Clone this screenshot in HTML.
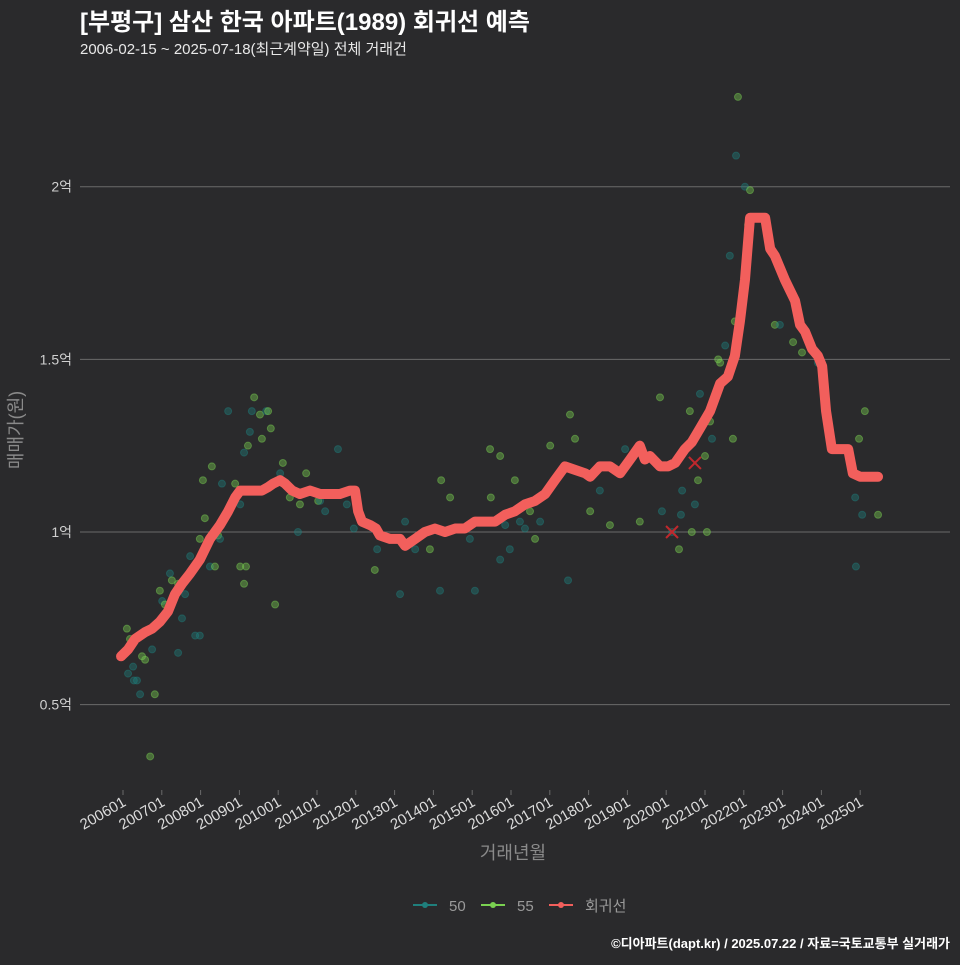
<!DOCTYPE html>
<html><head><meta charset="utf-8">
<style>
body{margin:0;background:#2a2a2c;width:960px;height:960px;overflow:hidden;font-family:"Liberation Sans","Noto Sans CJK KR",sans-serif;}
svg text{font-family:"Liberation Sans","Noto Sans CJK KR",sans-serif;}
</style></head><body>
<svg id="chart" width="960" height="960" xmlns="http://www.w3.org/2000/svg">
<rect width="960" height="960" fill="#2a2a2c"/>
<text x="80" y="30" font-size="24" font-weight="bold" fill="#ffffff">[부평구] 삼산 한국 아파트(1989) 회귀선 예측</text>
<text x="80" y="54" font-size="15" fill="#e8e8e8">2006-02-15 ~ 2025-07-18(최근계약일) 전체 거래건</text>
<g id="grid"></g>
<g id="points"></g>
<g id="line"></g>
<g id="xaxis"></g>
<text transform="translate(22,430) rotate(-90)" text-anchor="middle" font-size="18" fill="#8a8a8a">매매가(원)</text>
<text x="513" y="859" text-anchor="middle" font-size="18" fill="#8a8a8a">거래년월</text>
<g>
<g><line x1="413" y1="905" x2="437" y2="905" stroke="#1f7f7c" stroke-width="2"/><circle cx="425" cy="905" r="3" fill="#1f7f7c"/><text x="449" y="911" font-size="15" fill="#9a9a9a">50</text></g>
<g><line x1="481" y1="905" x2="505" y2="905" stroke="#7ad151" stroke-width="2"/><circle cx="493" cy="905" r="3" fill="#7ad151"/><text x="517" y="911" font-size="15" fill="#9a9a9a">55</text></g>
<g><line x1="549" y1="905" x2="573" y2="905" stroke="#f25f5c" stroke-width="2"/><circle cx="561" cy="905" r="3" fill="#f25f5c"/><text x="585" y="911" font-size="15" fill="#9a9a9a">회귀선</text></g>
</g>
<text x="950" y="948" text-anchor="end" font-size="13" font-weight="bold" fill="#ffffff">©디아파트(dapt.kr) / 2025.07.22 / 자료=국토교통부 실거래가</text>
</svg>
<script>
const yTicks=[0.5,1,1.5,2];
const yTickLabels=["0.5억","1억","1.5억","2억"];
const xTickYears=[2006,2007,2008,2009,2010,2011,2012,2013,2014,2015,2016,2017,2018,2019,2020,2021,2022,2023,2024,2025];
const xTickLabels=["200601","200701","200801","200901","201001","201101","201201","201301","201401","201501","201601","201701","201801","201901","202001","202101","202201","202301","202401","202501"];
const lineT=[2005.95,2006.13,2006.31,2006.57,2006.75,2006.95,2007.16,2007.34,2007.52,2007.73,2007.98,2008.24,2008.50,2008.71,2008.89,2009.02,2009.22,2009.40,2009.58,2009.74,2009.87,2010.05,2010.18,2010.36,2010.56,2010.82,2011.08,2011.28,2011.59,2011.85,2011.98,2012.06,2012.16,2012.37,2012.52,2012.62,2012.88,2013.14,2013.27,2013.53,2013.78,2014.04,2014.30,2014.56,2014.81,2015.07,2015.33,2015.59,2015.85,2016.10,2016.36,2016.62,2016.88,2017.13,2017.39,2017.65,2017.91,2018.04,2018.29,2018.55,2018.81,2019.07,2019.32,2019.45,2019.58,2019.84,2020.05,2020.23,2020.48,2020.66,2020.87,2021.13,2021.39,2021.59,2021.77,2021.90,2022.03,2022.16,2022.29,2022.55,2022.68,2022.80,2023.06,2023.19,2023.32,2023.45,2023.58,2023.76,2023.91,2024.02,2024.12,2024.27,2024.48,2024.69,2024.81,2025.00,2025.25,2025.46];
const lineV=[0.64,0.66,0.69,0.71,0.72,0.74,0.77,0.82,0.85,0.88,0.92,0.98,1.02,1.06,1.10,1.12,1.12,1.12,1.12,1.13,1.14,1.15,1.14,1.12,1.11,1.12,1.11,1.11,1.11,1.12,1.12,1.06,1.03,1.02,1.01,0.99,0.98,0.98,0.96,0.98,1.00,1.01,1.00,1.01,1.01,1.03,1.03,1.03,1.05,1.06,1.08,1.09,1.11,1.15,1.19,1.18,1.17,1.16,1.19,1.19,1.17,1.21,1.25,1.21,1.22,1.19,1.19,1.20,1.24,1.26,1.30,1.35,1.43,1.45,1.51,1.61,1.73,1.91,1.91,1.91,1.82,1.80,1.73,1.70,1.67,1.60,1.58,1.53,1.51,1.48,1.35,1.24,1.24,1.24,1.17,1.16,1.16,1.16];
const ptT=[2006.13,2006.18,2006.10,2006.26,2006.28,2006.36,2006.44,2006.49,2006.57,2006.70,2006.75,2006.82,2006.95,2007.01,2007.08,2007.13,2007.21,2007.26,2007.42,2007.42,2007.52,2007.60,2007.73,2007.86,2007.98,2007.98,2008.06,2008.11,2008.24,2008.29,2008.37,2008.45,2008.50,2008.55,2008.71,2008.89,2009.02,2009.02,2009.12,2009.17,2009.12,2009.22,2009.27,2009.32,2009.38,2009.53,2009.58,2009.69,2009.74,2009.81,2009.92,2010.05,2010.12,2010.30,2010.51,2010.56,2010.72,2011.03,2011.08,2011.21,2011.77,2011.54,2011.95,2012.49,2012.55,2013.14,2013.27,2013.53,2013.91,2014.17,2014.20,2014.43,2014.94,2015.07,2015.46,2015.48,2015.72,2015.97,2015.72,2015.85,2016.10,2016.23,2016.36,2016.49,2016.62,2016.75,2017.01,2017.52,2017.65,2017.47,2018.04,2018.29,2018.55,2018.94,2019.32,2019.84,2019.89,2020.15,2020.33,2020.38,2020.41,2020.61,2020.66,2020.74,2020.82,2020.87,2021.00,2021.05,2021.13,2021.18,2021.34,2021.39,2021.52,2021.64,2021.72,2021.85,2021.80,2022.03,2022.16,2022.11,2021.77,2022.80,2022.93,2023.27,2023.50,2023.91,2024.87,2024.97,2024.89,2025.05,2025.12,2025.46];
const ptV=[0.59,0.69,0.72,0.61,0.57,0.57,0.53,0.64,0.63,0.35,0.66,0.53,0.83,0.80,0.79,0.77,0.88,0.86,0.85,0.65,0.75,0.82,0.93,0.70,0.70,0.98,1.15,1.04,0.90,1.19,0.90,0.99,0.98,1.14,1.35,1.14,1.08,0.90,0.85,0.90,1.23,1.25,1.29,1.35,1.39,1.34,1.27,1.35,1.35,1.30,0.79,1.17,1.20,1.10,1.00,1.08,1.17,1.09,1.09,1.06,1.08,1.24,1.01,0.89,0.95,0.82,1.03,0.95,0.95,0.83,1.15,1.10,0.98,0.83,1.24,1.10,1.22,0.95,0.92,1.02,1.15,1.03,1.01,1.06,0.98,1.03,1.25,1.34,1.27,0.86,1.06,1.12,1.02,1.24,1.03,1.39,1.06,1.00,0.95,1.05,1.12,1.35,1.00,1.08,1.15,1.40,1.22,1.00,1.32,1.27,1.50,1.49,1.54,1.80,1.27,2.26,2.09,2.00,1.99,1.89,1.61,1.60,1.60,1.55,1.52,1.49,1.10,1.27,0.90,1.05,1.35,1.05];
const ptType=["50","55","55","50","50","50","50","55","55","55","50","55","55","50","55","50","50","55","55","50","50","50","50","50","50","55","55","55","50","55","55","55","50","50","50","55","50","55","55","55","50","55","50","50","55","55","55","50","55","55","55","50","55","55","50","55","55","55","50","50","50","50","50","55","50","50","50","50","55","50","55","55","50","50","55","55","55","50","50","50","55","50","50","55","55","50","55","55","55","50","55","50","55","50","55","55","50","50","55","50","50","55","55","50","55","50","55","55","55","50","55","55","50","50","55","55","50","50","55","55","55","55","50","55","55","50","50","55","50","50","55","55"];
const xMarkT=[2020.15,2020.74];
const xMarkV=[1.00,1.20];

const NS="http://www.w3.org/2000/svg";
function X(t){return 123+(t-2006)*38.8;}
function Y(v){return 532-(v-1)*345.3;}
function mk(tag,attrs,parent){const e=document.createElementNS(NS,tag);for(const k in attrs)e.setAttribute(k,attrs[k]);parent.appendChild(e);return e;}

const grid=document.getElementById('grid');
yTicks.forEach((v,i)=>{
  const l=mk('line',{x1:80,x2:950,y1:Y(v),y2:Y(v),stroke:'#6a6a6a','stroke-width':1},grid);
  
  
  const t=mk('text',{x:72,y:Y(v)+5,'text-anchor':'end','font-size':14,fill:'#d0d0d0'},grid);
  t.textContent=yTickLabels[i];
  
  
});
const xa=document.getElementById('xaxis');
xTickYears.forEach((yr,i)=>{
  const x=X(yr);
  const tk=mk('line',{x1:x,x2:x,y1:790,y2:795,stroke:'#6a6a6a'},xa);
  
  
  const t=mk('text',{transform:`translate(${x+4},${805}) rotate(-30)`,'text-anchor':'end','font-size':15,fill:'#dcdcdc'},xa);
  t.textContent=xTickLabels[i];
  
  
});
const pg=document.getElementById('points');
ptT.forEach((t,i)=>{
  const c=mk('circle',{cx:X(t),cy:Y(ptV[i]),r:3.5,fill:ptType[i]==="50"?'#1f7f7c':'#7ad151','fill-opacity':ptType[i]==="50"?0.4:0.4,stroke:ptType[i]==="50"?'#1f7f7c':'#7ad151','stroke-opacity':0.45},pg);
  
  
});
xMarkT.forEach((t,i)=>{
  const x=X(t),y=Y(xMarkV[i]);
  const p=mk('path',{d:`M${x-6},${y-6}L${x+6},${y+6}M${x+6},${y-6}L${x-6},${y+6}`,stroke:'#c0282d','stroke-width':2},pg);
  
  
});
const lg=document.getElementById('line');
const pl=mk('polyline',{points:lineT.map((t,i)=>X(t)+','+Y(lineV[i])).join(' '),fill:'none',stroke:'#f25f5c','stroke-width':10,'stroke-linejoin':'round','stroke-linecap':'round'},lg);


</script>
</body></html>
